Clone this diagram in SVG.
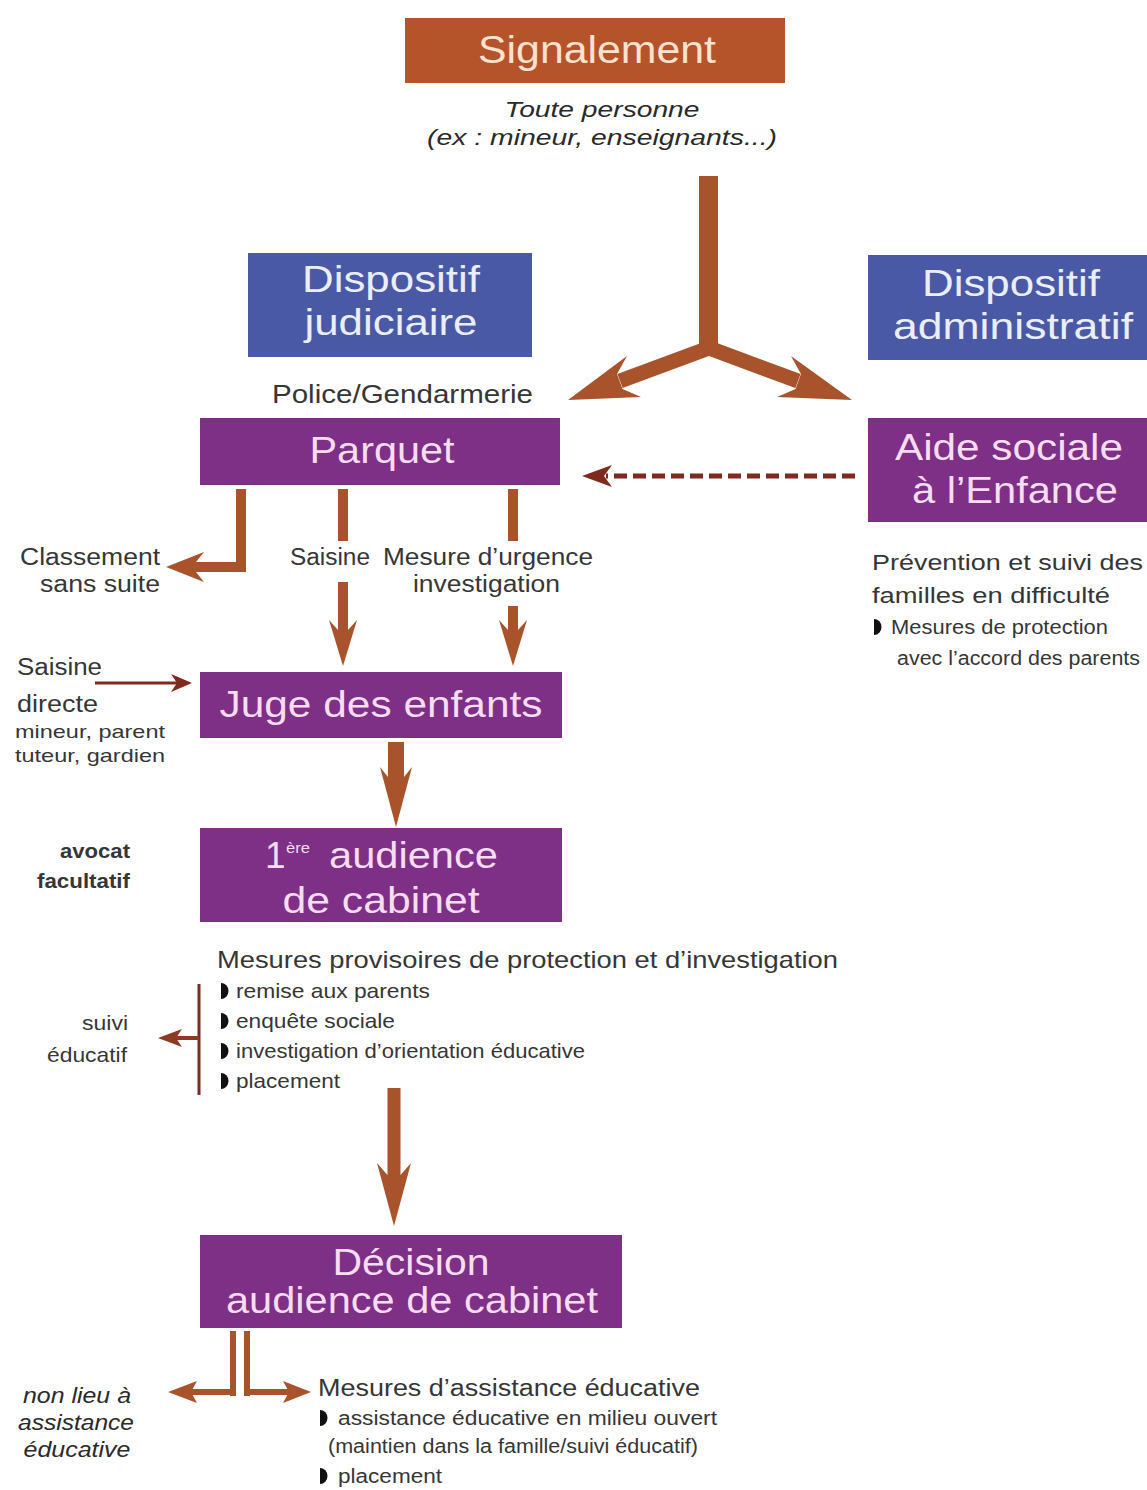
<svg xmlns="http://www.w3.org/2000/svg" xmlns:xlink="http://www.w3.org/1999/xlink" width="1147" height="1490" viewBox="0 0 1147 1490">
<style>
.bg{fill:#ffffff}
.purple{fill:#7e2f86}
.blue{fill:#4a59a5}
.brownbox{fill:#b5532a}
.tp{font-family:"Liberation Sans",Arial,sans-serif;font-size:37px;fill:#f7dcf2;text-anchor:middle}
.tb{font-family:"Liberation Sans",Arial,sans-serif;font-size:37px;fill:#e9eefb;text-anchor:middle}
.ts{font-family:"Liberation Sans",Arial,sans-serif;font-size:38px;fill:#fbe1cf;text-anchor:middle}
.t{font-family:"Liberation Sans",Arial,sans-serif;fill:#363636}
.it{font-family:"Liberation Sans",Arial,sans-serif;font-style:italic;fill:#2a2a2a}
.arr{fill:#a8532b}
.dk{fill:#7e2a1e}
.dkl{stroke:#7e2a1e;fill:none}
.bul{fill:#111}
</style>
<defs>
<path id="bul" d="M0,-8 A7.5,8 0 0 1 0,8 Z"/>
</defs>
<rect class="bg" x="0" y="0" width="1147" height="1490"/>

<g id="connectors">
  <!-- Y split -->
  <rect class="arr" x="699" y="176" width="19" height="176"/>
  <path d="M709,348 L620,381" stroke="#a8532b" stroke-width="15" fill="none"/>
  <polygon class="arr" points="568,400 627,356 617,374 622.5,389 641,397"/>
  <g transform="translate(1418,0) scale(-1,1)">
    <path d="M709,348 L620,381" stroke="#a8532b" stroke-width="15" fill="none"/>
    <polygon class="arr" points="566,400 627,356 617,374 622.5,389 641,397"/>
  </g>
  <!-- dashed from Aide sociale to Parquet -->
  <line class="dkl" x1="855" y1="476" x2="606" y2="476" stroke-width="5" stroke-dasharray="13 6"/>
  <polygon class="dk" points="582,476 612,465 604,476 612,487"/>
  <!-- Parquet -> Classement -->
  <rect class="arr" x="236" y="489" width="10" height="83"/>
  <rect class="arr" x="196" y="562" width="50" height="10"/>
  <polygon class="arr" points="166,567 204,552 196,562 196,572 204,582"/>
  <!-- Parquet -> Saisine -> Juge -->
  <rect class="arr" x="338" y="489" width="10" height="52"/>
  <rect class="arr" x="338" y="582" width="10" height="50"/>
  <polygon class="arr" points="343,666 357,620 348,630 338,630 329,620"/>
  <!-- Parquet -> Mesure d'urgence -> Juge -->
  <rect class="arr" x="508" y="489" width="10" height="52"/>
  <rect class="arr" x="508" y="606" width="10" height="26"/>
  <polygon class="arr" points="513,666 527,620 518,630 508,630 499,620"/>
  <!-- Saisine directe -->
  <line class="dkl" x1="95" y1="683" x2="178" y2="683" stroke-width="3"/>
  <polygon class="dk" points="192,683 171,674 177,683 171,692"/>
  <!-- Juge -> 1ere audience -->
  <rect class="arr" x="388" y="742" width="16" height="36"/>
  <polygon class="arr" points="396,827 412,767 404,777 388,777 380,767"/>
  <!-- bracket + suivi educatif -->
  <line class="dkl" x1="199" y1="984" x2="199" y2="1095" stroke-width="3"/>
  <line x1="199" y1="1038" x2="176" y2="1038" stroke="#8e3a22" stroke-width="4"/>
  <polygon points="158,1038 182,1029 176,1038 182,1047" fill="#8e3a22"/>
  <!-- 1ere audience -> Decision -->
  <rect class="arr" x="387.5" y="1088" width="13" height="88"/>
  <polygon class="arr" points="394,1226 411,1163 400.5,1175 387.5,1175 377,1163"/>
  <!-- Decision -> outcomes -->
  <rect class="arr" x="230" y="1331" width="6" height="65"/>
  <rect class="arr" x="244" y="1331" width="6" height="65"/>
  <rect class="arr" x="190" y="1389" width="46" height="6"/>
  <polygon class="arr" points="168,1392 197,1381 191,1392 197,1403"/>
  <rect class="arr" x="244" y="1389" width="46" height="6"/>
  <polygon class="arr" points="311,1392 283,1381 289,1392 283,1403"/>
</g>

<g id="signalement">
  <rect class="brownbox" x="405" y="18" width="380" height="65"/>
  <text class="ts" x="597" y="63" textLength="238" lengthAdjust="spacingAndGlyphs">Signalement</text>
  <text class="it" x="602" y="117" font-size="22" text-anchor="middle" textLength="195" lengthAdjust="spacingAndGlyphs">Toute personne</text>
  <text class="it" x="602" y="145" font-size="22" text-anchor="middle" textLength="350" lengthAdjust="spacingAndGlyphs">(ex : mineur, enseignants...)</text>
</g>

<g id="dispositif-judiciaire">
  <rect class="blue" x="248" y="253" width="284" height="104"/>
  <text class="tb" x="391" y="292" textLength="178" lengthAdjust="spacingAndGlyphs">Dispositif</text>
  <text class="tb" x="391" y="335" textLength="173" lengthAdjust="spacingAndGlyphs">judiciaire</text>
</g>

<g id="dispositif-administratif">
  <rect class="blue" x="868" y="255" width="279" height="105"/>
  <text class="tb" x="1011" y="296" textLength="178" lengthAdjust="spacingAndGlyphs">Dispositif</text>
  <text class="tb" x="1013" y="339" textLength="240" lengthAdjust="spacingAndGlyphs">administratif</text>
</g>

<g id="police">
  <text class="t" x="272" y="403" font-size="25" textLength="261" lengthAdjust="spacingAndGlyphs">Police/Gendarmerie</text>
</g>

<g id="parquet">
  <rect class="purple" x="200" y="418" width="360" height="67"/>
  <text class="tp" x="382" y="463" textLength="145" lengthAdjust="spacingAndGlyphs">Parquet</text>
</g>

<g id="aide-sociale">
  <rect class="purple" x="868" y="418" width="279" height="104"/>
  <text class="tp" x="1009" y="460" textLength="228" lengthAdjust="spacingAndGlyphs">Aide sociale</text>
  <text class="tp" x="1015" y="503" textLength="206" lengthAdjust="spacingAndGlyphs">à l’Enfance</text>
</g>

<g id="prevention">
  <text class="t" x="872" y="570" font-size="22" textLength="271" lengthAdjust="spacingAndGlyphs">Prévention et suivi des</text>
  <text class="t" x="872" y="603" font-size="22" textLength="238" lengthAdjust="spacingAndGlyphs">familles en difficulté</text>
  <use href="#bul" x="874" y="627" class="bul"/>
  <text class="t" x="891" y="634" font-size="20" textLength="217" lengthAdjust="spacingAndGlyphs">Mesures de protection</text>
  <text class="t" x="897" y="665" font-size="20" textLength="243" lengthAdjust="spacingAndGlyphs">avec l’accord des parents</text>
</g>

<g id="classement">
  <text class="t" x="20" y="565" font-size="23" textLength="140" lengthAdjust="spacingAndGlyphs">Classement</text>
  <text class="t" x="40" y="592" font-size="23" textLength="120" lengthAdjust="spacingAndGlyphs">sans suite</text>
</g>

<g id="saisine-label">
  <text class="t" x="290" y="565" font-size="23" textLength="80" lengthAdjust="spacingAndGlyphs">Saisine</text>
</g>

<g id="mesure-urgence">
  <text class="t" x="383" y="565" font-size="23" textLength="210" lengthAdjust="spacingAndGlyphs">Mesure d’urgence</text>
  <text class="t" x="413" y="592" font-size="23" textLength="147" lengthAdjust="spacingAndGlyphs">investigation</text>
</g>

<g id="saisine-directe">
  <text class="t" x="17" y="675" font-size="23" textLength="85" lengthAdjust="spacingAndGlyphs">Saisine</text>
  <text class="t" x="17" y="712" font-size="23" textLength="81" lengthAdjust="spacingAndGlyphs">directe</text>
  <text class="t" x="15" y="738" font-size="19" textLength="150" lengthAdjust="spacingAndGlyphs">mineur, parent</text>
  <text class="t" x="15" y="762" font-size="19" textLength="150" lengthAdjust="spacingAndGlyphs">tuteur, gardien</text>
</g>

<g id="juge">
  <rect class="purple" x="200" y="672" width="362" height="66"/>
  <text class="tp" x="381" y="717" textLength="323" lengthAdjust="spacingAndGlyphs">Juge des enfants</text>
</g>

<g id="avocat">
  <text class="t" x="130" y="858" font-size="21" font-weight="bold" text-anchor="end" textLength="70" lengthAdjust="spacingAndGlyphs" fill="#222">avocat</text>
  <text class="t" x="130" y="888" font-size="21" font-weight="bold" text-anchor="end" textLength="93" lengthAdjust="spacingAndGlyphs" fill="#222">facultatif</text>
</g>

<g id="premiere-audience">
  <rect class="purple" x="200" y="828" width="362" height="94"/>
  <text x="265" y="868" font-family="Liberation Sans, Arial, sans-serif" font-size="37" fill="#f7dcf2">1</text>
  <text x="286" y="853" font-family="Liberation Sans, Arial, sans-serif" font-size="15" fill="#f7dcf2" textLength="24" lengthAdjust="spacingAndGlyphs">ère</text>
  <text x="329" y="868" font-family="Liberation Sans, Arial, sans-serif" font-size="37" fill="#f7dcf2" textLength="169" lengthAdjust="spacingAndGlyphs">audience</text>
  <text class="tp" x="381" y="913" textLength="197" lengthAdjust="spacingAndGlyphs">de cabinet</text>
</g>

<g id="mesures-provisoires">
  <text class="t" x="217" y="968" font-size="24" textLength="621" lengthAdjust="spacingAndGlyphs">Mesures provisoires de protection et d’investigation</text>
  <use href="#bul" x="221" y="991" class="bul"/>
  <text class="t" x="236" y="998" font-size="21" textLength="194" lengthAdjust="spacingAndGlyphs">remise aux parents</text>
  <use href="#bul" x="221" y="1021" class="bul"/>
  <text class="t" x="236" y="1028" font-size="21" textLength="159" lengthAdjust="spacingAndGlyphs">enquête sociale</text>
  <use href="#bul" x="221" y="1051" class="bul"/>
  <text class="t" x="236" y="1058" font-size="21" textLength="349" lengthAdjust="spacingAndGlyphs">investigation d’orientation éducative</text>
  <use href="#bul" x="221" y="1081" class="bul"/>
  <text class="t" x="236" y="1088" font-size="21" textLength="104" lengthAdjust="spacingAndGlyphs">placement</text>
</g>

<g id="suivi-educatif">
  <text class="t" x="128" y="1030" font-size="21" text-anchor="end" textLength="46" lengthAdjust="spacingAndGlyphs">suivi</text>
  <text class="t" x="127" y="1062" font-size="21" text-anchor="end" textLength="80" lengthAdjust="spacingAndGlyphs">éducatif</text>
</g>

<g id="decision">
  <rect class="purple" x="200" y="1235" width="422" height="93"/>
  <text class="tp" x="411" y="1275" textLength="157" lengthAdjust="spacingAndGlyphs">Décision</text>
  <text class="tp" x="412" y="1313" textLength="372" lengthAdjust="spacingAndGlyphs">audience de cabinet</text>
</g>

<g id="non-lieu">
  <text class="it" x="77" y="1403" font-size="22" text-anchor="middle" textLength="108" lengthAdjust="spacingAndGlyphs" fill="#444">non lieu à</text>
  <text class="it" x="76" y="1430" font-size="22" text-anchor="middle" textLength="116" lengthAdjust="spacingAndGlyphs" fill="#444">assistance</text>
  <text class="it" x="77" y="1457" font-size="22" text-anchor="middle" textLength="107" lengthAdjust="spacingAndGlyphs" fill="#444">éducative</text>
</g>

<g id="mesures-assistance">
  <text class="t" x="318" y="1396" font-size="23" textLength="382" lengthAdjust="spacingAndGlyphs">Mesures d’assistance éducative</text>
  <use href="#bul" x="320" y="1418" class="bul"/>
  <text class="t" x="338" y="1425" font-size="20" textLength="379" lengthAdjust="spacingAndGlyphs">assistance éducative en milieu ouvert</text>
  <text class="t" x="328" y="1453" font-size="20" textLength="370" lengthAdjust="spacingAndGlyphs">(maintien dans la famille/suivi éducatif)</text>
  <use href="#bul" x="320" y="1476" class="bul"/>
  <text class="t" x="338" y="1483" font-size="20" textLength="104" lengthAdjust="spacingAndGlyphs">placement</text>
</g>
</svg>
